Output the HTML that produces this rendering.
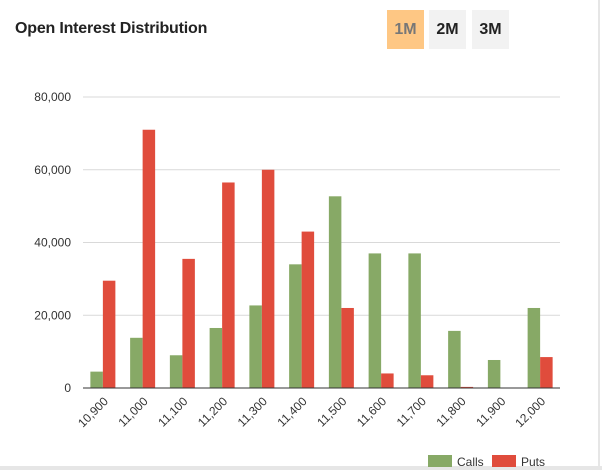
<!DOCTYPE html>
<html><head><meta charset="utf-8"><style>
body{margin:0;width:602px;height:470px;background:#fff;font-family:"Liberation Sans",sans-serif;overflow:hidden;position:relative}
.title{position:absolute;left:15px;top:20px;font-size:16px;font-weight:bold;color:#222;letter-spacing:-0.2px}
.btn{position:absolute;top:10px;width:37px;height:39px;background:#f2f2f2;color:#222;font-weight:bold;font-size:16px;line-height:39px;text-align:center}
.edge-r{position:absolute;left:598px;top:0;width:2px;height:470px;background:#e6e6e6}
.edge-b{position:absolute;left:0;top:466px;width:602px;height:4px;background:#e6e6e6}
</style></head><body>
<div class="title">Open Interest Distribution</div>
<div class="btn" style="left:387px;background:#fec784;color:#777">1M</div>
<div class="btn" style="left:429px">2M</div>
<div class="btn" style="left:472px">3M</div>
<div class="edge-r"></div>
<div class="edge-b"></div>
<svg id="chart" width="602" height="470" style="position:absolute;left:0;top:0"></svg>
<script>
const categories=["10,900","11,000","11,100","11,200","11,300","11,400","11,500","11,600","11,700","11,800","11,900","12,000"];
const calls=[4500,13800,9000,16500,22700,34000,52700,37000,37000,15700,7700,22000];
const puts=[29500,71000,35500,56500,60000,43000,22000,4000,3500,300,0,8500];
const yTicks=[0,20000,40000,60000,80000];
const yTickLabels=["0","20,000","40,000","60,000","80,000"];
const NS="http://www.w3.org/2000/svg";
const svg=document.getElementById('chart');
const X0=83,X1=560,Y0=388,Y1=97,YMAX=80000;
const band=(X1-X0)/categories.length;
const y=v=>Y0-(v/YMAX)*(Y0-Y1);
const xc=i=>X0+band*(i+0.5);
function mk(t,a){const e=document.createElementNS(NS,t);for(const k in a)e.setAttribute(k,a[k]);svg.appendChild(e);return e;}
yTicks.forEach((v,i)=>{
  if(v>0){const g=mk('line',{x1:X0,x2:X1,y1:y(v),y2:y(v),stroke:'#d9d9d9','stroke-width':1});
  
  }
  const t=mk('text',{x:71,y:y(v)+4,'text-anchor':'end','font-size':12,fill:'#333'});
  t.textContent=yTickLabels[i];
  
  
});
const bw=12.5;
categories.forEach((c,i)=>{
  const b1=mk('rect',{x:xc(i)-bw,y:y(calls[i]),width:bw,height:Y0-y(calls[i]),fill:'#87a966'});
  
  
  const b2=mk('rect',{x:xc(i),y:y(puts[i]),width:bw,height:Y0-y(puts[i]),fill:'#e04c3c'});
  
  
  const t=mk('text',{x:xc(i)+6,y:Y0+14,'text-anchor':'end','font-size':12,fill:'#333',transform:`rotate(-45 ${xc(i)+6} ${Y0+14})`});
  t.textContent=c;
  
  
});
const ax=mk('line',{x1:X0,x2:X1,y1:Y0,y2:Y0,stroke:'#333','stroke-width':1});


const l1=mk('rect',{x:428,y:455,width:24,height:12,fill:'#87a966'});


const lt1=mk('text',{x:457,y:466,'font-size':12,fill:'#333'});lt1.textContent='Calls';


const l2=mk('rect',{x:492,y:455,width:24,height:12,fill:'#e04c3c'});


const lt2=mk('text',{x:521,y:466,'font-size':12,fill:'#333'});lt2.textContent='Puts';


</script>
</body></html>
